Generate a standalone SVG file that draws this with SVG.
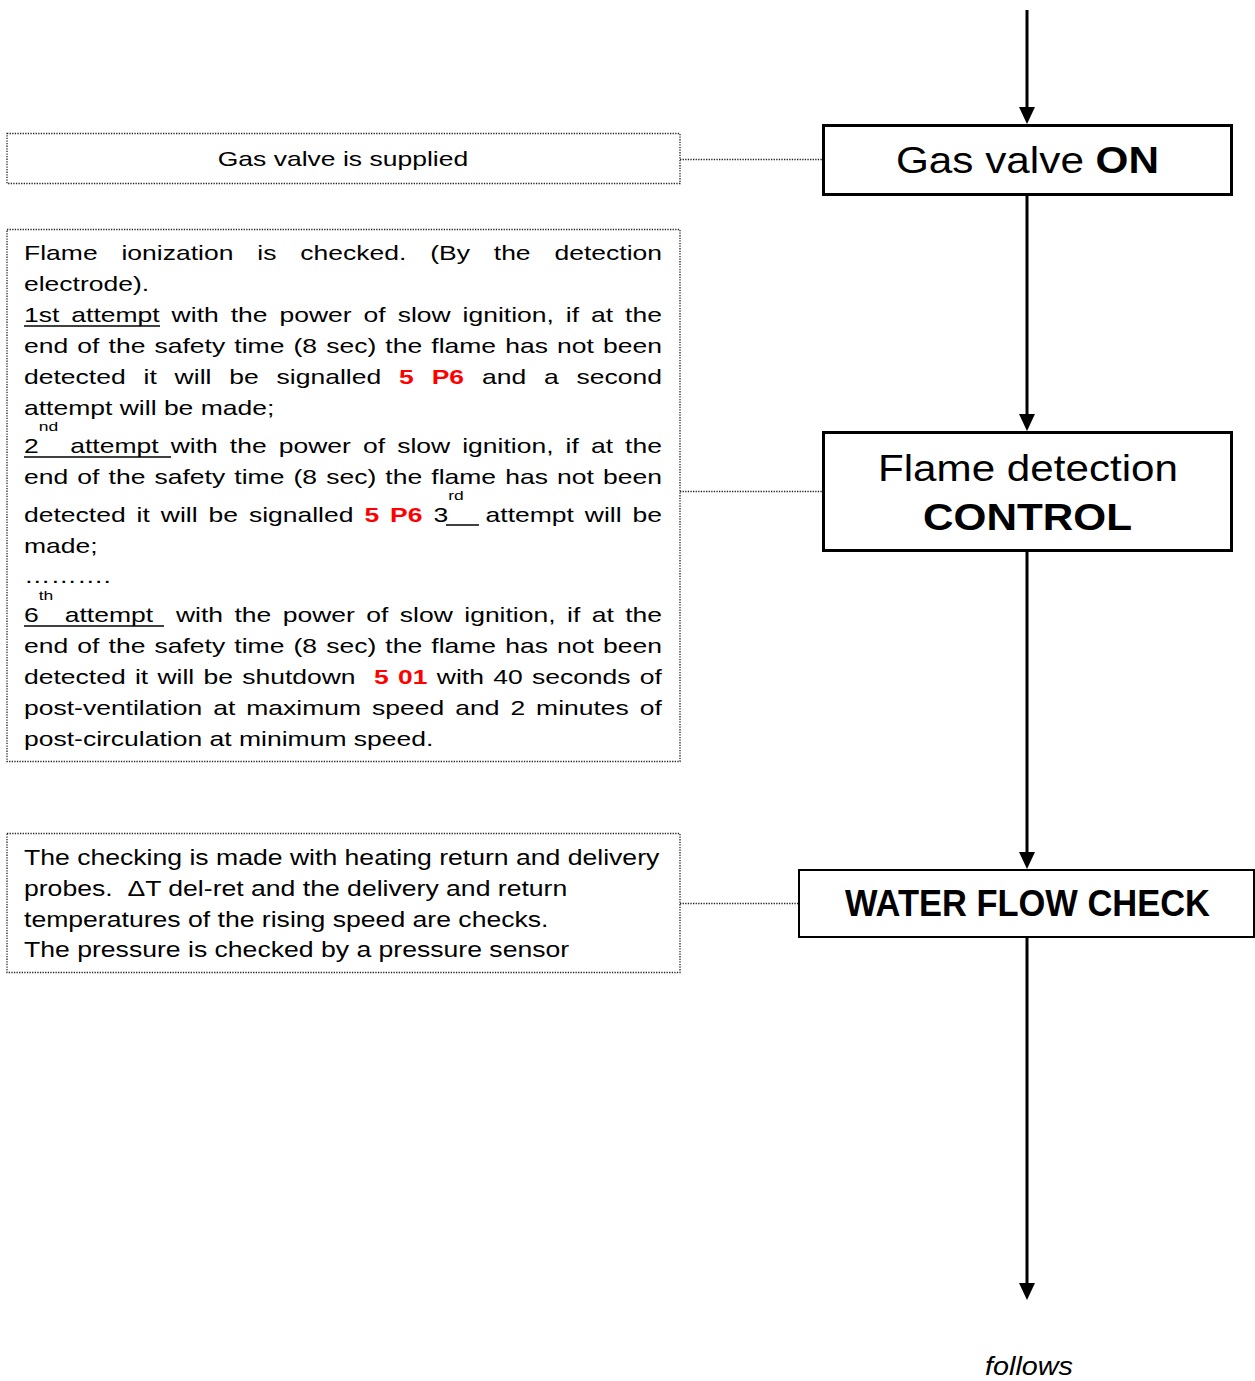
<svg xmlns="http://www.w3.org/2000/svg" width="1255" height="1381" viewBox="0 0 1255 1381">
<style>
.t{font-family:"Liberation Sans",Arial,sans-serif;font-size:20.5px;fill:#000}
.w{font-family:"Liberation Sans",Arial,sans-serif;font-size:22px;fill:#000}
.r{fill:#ff0000;font-weight:bold}
.sup{font-size:13.5px}
.note{fill:none;stroke:#222;stroke-width:1.3;stroke-dasharray:1.3 1.3}
.box{fill:#fff;stroke:#000}
.lbl{font-family:"Liberation Sans",Arial,sans-serif;fill:#000}
.ul{stroke:#000;stroke-width:1.6}
.flow{stroke:#000;stroke-width:3;fill:none}
.dot{stroke:#222;stroke-width:1.3;stroke-dasharray:1.3 1.3;fill:none}
</style>
<defs>
<marker id="ah" viewBox="0 0 17 16" refX="0" refY="8" markerWidth="17" markerHeight="16" markerUnits="userSpaceOnUse" orient="auto">
<path d="M0,0 L17,8 L0,16 z" fill="#000"/>
</marker>
</defs>
<rect width="1255" height="1381" fill="#fff"/>

<g id="connectors">
<line class="flow" x1="1027" y1="10" x2="1027" y2="107" marker-end="url(#ah)"/>
<line class="flow" x1="1027" y1="195" x2="1027" y2="414" marker-end="url(#ah)"/>
<line class="flow" x1="1027" y1="551" x2="1027" y2="852" marker-end="url(#ah)"/>
<line class="flow" x1="1027" y1="937" x2="1027" y2="1283" marker-end="url(#ah)"/>
<line class="dot" x1="680" y1="159.5" x2="823" y2="159.5"/>
<line class="dot" x1="680" y1="491.5" x2="823" y2="491.5"/>
<line class="dot" x1="680" y1="903.5" x2="799" y2="903.5"/>
</g>

<g id="node-gas-valve-on">
<rect class="box" x="823.5" y="125.5" width="408" height="69" stroke-width="3"/>
<text class="lbl" x="896" y="173" font-size="37.5" textLength="263" lengthAdjust="spacingAndGlyphs">Gas valve <tspan font-weight="bold">ON</tspan></text>
</g>

<g id="node-flame-detection">
<rect class="box" x="823.5" y="432.5" width="408" height="118" stroke-width="3"/>
<text class="lbl" x="878" y="481" font-size="37.5" textLength="300" lengthAdjust="spacingAndGlyphs">Flame detection</text>
<text class="lbl" x="923" y="530" font-size="37.5" font-weight="bold" textLength="209" lengthAdjust="spacingAndGlyphs">CONTROL</text>
</g>

<g id="node-water-flow">
<rect class="box" x="799" y="870" width="455" height="67" stroke-width="2"/>
<text class="lbl" x="845" y="916" font-size="36" font-weight="bold" textLength="365" lengthAdjust="spacingAndGlyphs">WATER FLOW CHECK</text>
</g>

<g id="node-follows">
<text class="lbl" x="985" y="1375" font-size="25" font-style="italic" textLength="88" lengthAdjust="spacingAndGlyphs">follows</text>
</g>

<g id="note-gas-supplied">
<rect class="note" x="7" y="133.5" width="673" height="50"/>
<g transform="scale(1.2927 1)">
<text class="t" x="265.3" y="166" text-anchor="middle">Gas valve is supplied</text>
</g>
</g>

<g id="note-flame">
<rect class="note" x="7" y="229.5" width="673" height="532"/>
<g transform="scale(1.2927 1)">
<text class="t" x="18.57" y="260" style="word-spacing:12.76px">Flame ionization is checked. (By the detection</text>
<text class="t" x="18.57" y="291">electrode).</text>
<text class="t" x="18.57" y="322" style="word-spacing:3.55px">1st attempt with the power of slow ignition, if at the</text>
<text class="t" x="18.57" y="353" style="word-spacing:1.36px">end of the safety time (8 sec) the flame has not been</text>
<text class="t" x="18.57" y="384" style="word-spacing:8.12px">detected it will be signalled <tspan class="r">5 P6</tspan> and a second</text>
<text class="t" x="18.57" y="415">attempt will be made;</text>
<text class="t" x="18.57" y="453" style="word-spacing:3.64px" xml:space="preserve">2<tspan class="sup" dy="-22">nd</tspan><tspan dy="22"> attempt with the power of slow ignition, if at the</tspan></text>
<text class="t" x="18.57" y="484" style="word-spacing:1.36px">end of the safety time (8 sec) the flame has not been</text>
<text class="t" x="18.57" y="522" style="word-spacing:2.76px" xml:space="preserve">detected it will be signalled <tspan class="r">5 P6</tspan> 3<tspan class="sup" dy="-22">rd</tspan><tspan dy="22">  attempt will be</tspan></text>
<text class="t" x="18.57" y="553">made;</text>
<text class="t" x="18.57" y="583">……….</text>
<text class="t" x="18.57" y="622" style="word-spacing:3.14px" xml:space="preserve">6<tspan class="sup" dy="-22">th</tspan><tspan dy="22"> attempt  with the power of slow ignition, if at the</tspan></text>
<text class="t" x="18.57" y="653" style="word-spacing:1.36px">end of the safety time (8 sec) the flame has not been</text>
<text class="t" x="18.57" y="684" style="word-spacing:1.46px" xml:space="preserve">detected it will be shutdown  <tspan class="r">5 01</tspan> with 40 seconds of</text>
<text class="t" x="18.57" y="715" style="word-spacing:2.79px">post-ventilation at maximum speed and 2 minutes of</text>
<text class="t" x="18.57" y="746">post-circulation at minimum speed.</text>
</g>
<line class="ul" x1="24" y1="326" x2="160" y2="326"/>
<line class="ul" x1="24" y1="457" x2="171" y2="457"/>
<line class="ul" x1="446" y1="525" x2="479" y2="525"/>
<line class="ul" x1="24" y1="626" x2="164" y2="626"/>
</g>

<g id="note-water">
<rect class="note" x="7" y="833.5" width="673" height="139"/>
<g transform="scale(1.209 1)">
<text class="w" x="19.85" y="865">The checking is made with heating return and delivery</text>
<text class="w" x="19.85" y="896" xml:space="preserve">probes.  ΔT del-ret and the delivery and return</text>
<text class="w" x="19.85" y="927">temperatures of the rising speed are checks.</text>
<text class="w" x="19.85" y="957">The pressure is checked by a pressure sensor</text>
</g>
</g>
</svg>
